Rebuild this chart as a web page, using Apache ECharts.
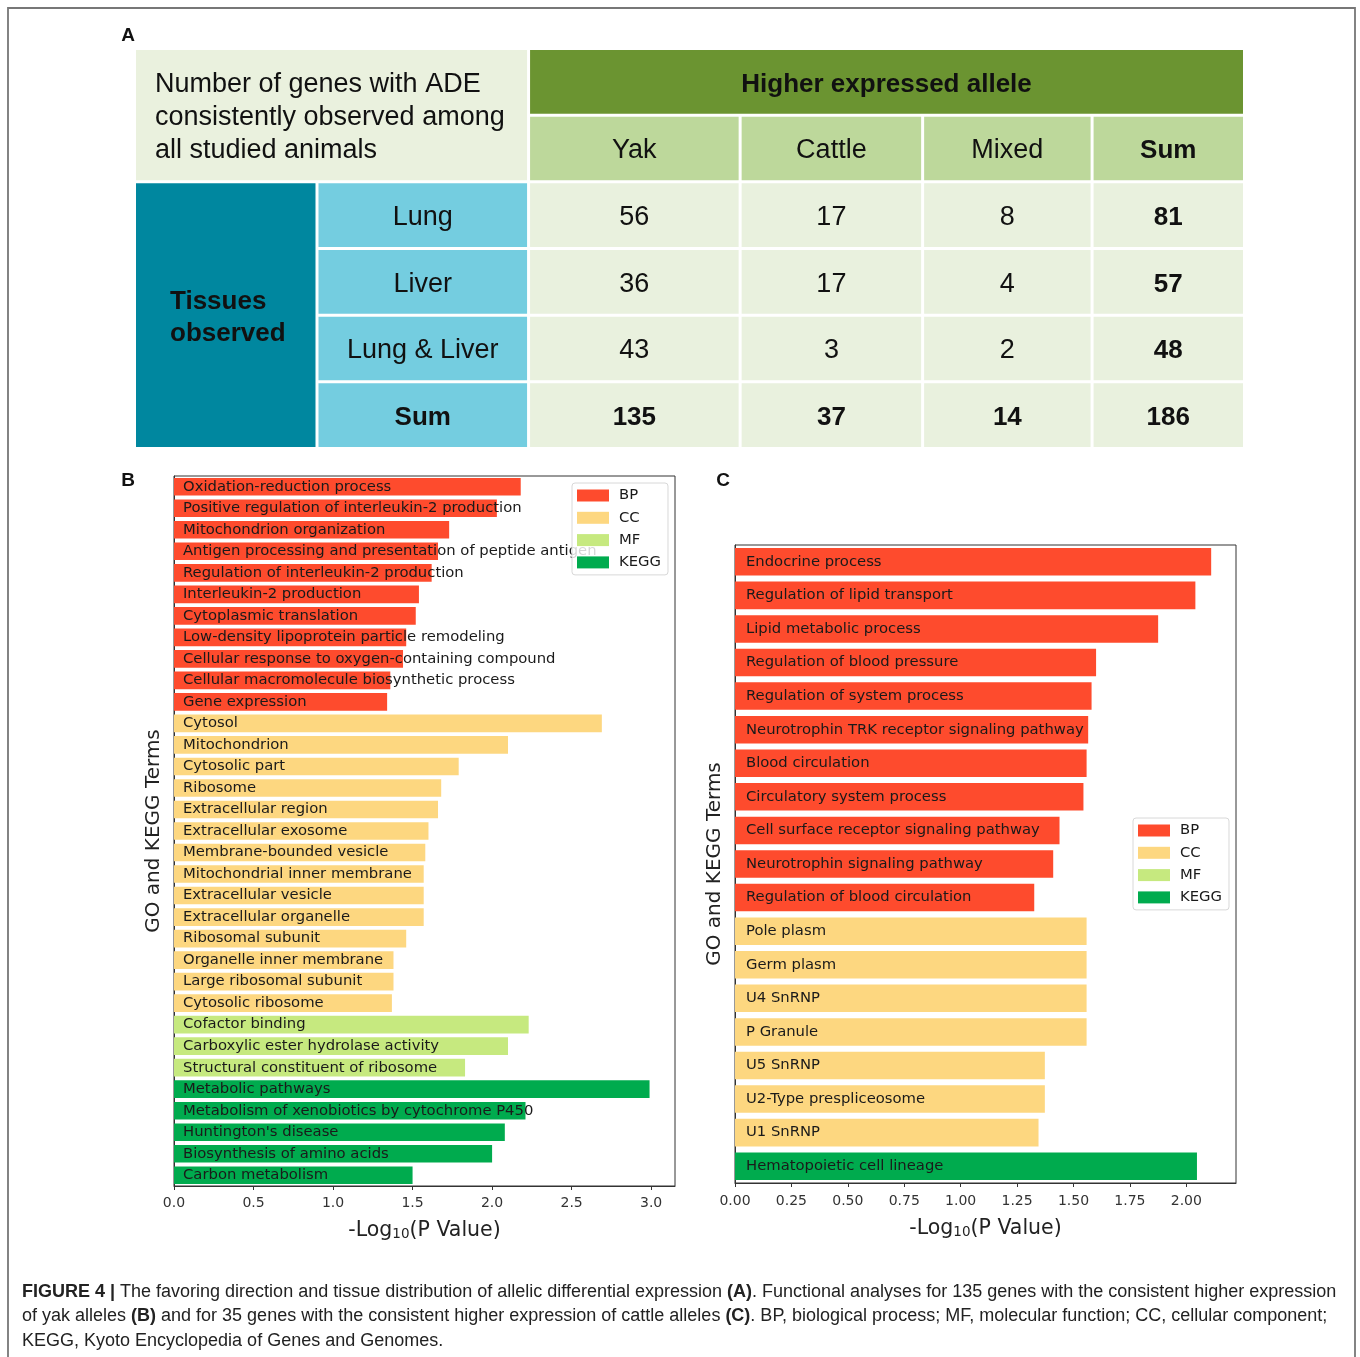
<!DOCTYPE html>
<html>
<head>
<meta charset="utf-8">
<script src="https://cdn.jsdelivr.net/npm/echarts@6/dist/echarts.min.js"></script>
<style>
  html, body { margin: 0; padding: 0; background: #ffffff; }
  #fig { width: 1360px; height: 1357px; }
</style>
</head>
<body>
<div id="fig"></div>
<script>
// ---- Panel A: genes with allelic differential expression (ADE) ----
const alleleColumns = ['Yak', 'Cattle', 'Mixed'];
const tissueRows = ['Lung', 'Liver', 'Lung & Liver'];
const yakCounts = [56, 36, 43];
const cattleCounts = [17, 17, 3];
const mixedCounts = [8, 4, 2];

// ---- Panel B: enrichment for genes with higher yak-allele expression ----
const bpTermsB = [
  'Oxidation-reduction process',
  'Positive regulation of interleukin-2 production',
  'Mitochondrion organization',
  'Antigen processing and presentation of peptide antigen',
  'Regulation of interleukin-2 production',
  'Interleukin-2 production',
  'Cytoplasmic translation',
  'Low-density lipoprotein particle remodeling',
  'Cellular response to oxygen-containing compound',
  'Cellular macromolecule biosynthetic process',
  'Gene expression'
];
const bpValuesB = [2.18, 2.03, 1.73, 1.66, 1.62, 1.54, 1.52, 1.46, 1.44, 1.36, 1.34];
const ccTermsB = [
  'Cytosol', 'Mitochondrion', 'Cytosolic part', 'Ribosome', 'Extracellular region',
  'Extracellular exosome', 'Membrane-bounded vesicle', 'Mitochondrial inner membrane',
  'Extracellular vesicle', 'Extracellular organelle', 'Ribosomal subunit',
  'Organelle inner membrane', 'Large ribosomal subunit', 'Cytosolic ribosome'
];
const ccValuesB = [2.69, 2.10, 1.79, 1.68, 1.66, 1.60, 1.58, 1.57, 1.57, 1.57, 1.46, 1.38, 1.38, 1.37];
const mfTermsB = ['Cofactor binding', 'Carboxylic ester hydrolase activity', 'Structural constituent of ribosome'];
const mfValuesB = [2.23, 2.10, 1.83];
const keggTermsB = [
  'Metabolic pathways', 'Metabolism of xenobiotics by cytochrome P450',
  "Huntington's disease", 'Biosynthesis of amino acids', 'Carbon metabolism'
];
const keggValuesB = [2.99, 2.21, 2.08, 2.00, 1.50];
const tickValuesB = [0, 0.5, 1.0, 1.5, 2.0, 2.5, 3.0];

// ---- Panel C: enrichment for genes with higher cattle-allele expression ----
const bpTermsC = [
  'Endocrine process', 'Regulation of lipid transport', 'Lipid metabolic process',
  'Regulation of blood pressure', 'Regulation of system process',
  'Neurotrophin TRK receptor signaling pathway', 'Blood circulation',
  'Circulatory system process', 'Cell surface receptor signaling pathway',
  'Neurotrophin signaling pathway', 'Regulation of blood circulation'
];
const bpValuesC = [2.11, 2.04, 1.875, 1.60, 1.58, 1.565, 1.558, 1.544, 1.438, 1.41, 1.326];
const ccTermsC = ['Pole plasm', 'Germ plasm', 'U4 SnRNP', 'P Granule', 'U5 SnRNP', 'U2-Type prespliceosome', 'U1 SnRNP'];
const ccValuesC = [1.558, 1.558, 1.558, 1.558, 1.373, 1.373, 1.345];
const mfTermsC = [];
const mfValuesC = [];
const keggTermsC = ['Hematopoietic cell lineage'];
const keggValuesC = [2.047];
const tickValuesC = [0, 0.25, 0.5, 0.75, 1.0, 1.25, 1.5, 1.75, 2.0];

const categoryNames = ['BP', 'CC', 'MF', 'KEGG'];
const categoryColors = { BP: '#FE4B2D', CC: '#FDD780', MF: '#C6E97F', KEGG: '#00AB4E' };

const PLOT_FONT = 'DejaVu Sans';
const TABLE_FONT = 'Liberation Sans';
const INK = '#1a1a1a';

// ---------- table layout (panel A) ----------
const colWeights = [182, 211, 211, 182, 169, 152];
const colEdges = [0];
colWeights.forEach(w => colEdges.push(colEdges[colEdges.length - 1] + w));

const FILL = {
  corner: '#EAF1DE', top: '#6B9431', head: '#BDD89B',
  tissue: '#00879F', rowHead: '#74CDE0', body: '#E9F1DE'
};
const tableCells = [];
function addCell(c0, c1, r0, r1, text, fill, opts) {
  opts = opts || {};
  tableCells.push({ c0, c1, r0, r1, text: String(text), fill,
    bold: !!opts.bold, align: opts.align || 'center', pad: opts.pad || 0, lh: opts.lh || 32 });
}
addCell(0, 1, 0, 1, 'Number of genes with ADE\nconsistently observed among\nall studied animals', FILL.corner,
  { align: 'left', pad: 19, lh: 33 });
addCell(2, 5, 0, 0, 'Higher expressed allele', FILL.top, { bold: true });
alleleColumns.forEach((name, i) => addCell(2 + i, 2 + i, 1, 1, name, FILL.head));
addCell(5, 5, 1, 1, 'Sum', FILL.head, { bold: true });
addCell(0, 0, 2, 5, 'Tissues\nobserved', FILL.tissue, { bold: true, align: 'left', pad: 34, lh: 32 });

const countColumns = [yakCounts, cattleCounts, mixedCounts];
const rowSums = tissueRows.map((_, r) => countColumns.reduce((s, col) => s + col[r], 0));
const colSums = countColumns.map(col => col.reduce((s, v) => s + v, 0));
const grandSum = rowSums.reduce((s, v) => s + v, 0);

tissueRows.forEach((name, r) => {
  addCell(1, 1, 2 + r, 2 + r, name, FILL.rowHead);
  countColumns.forEach((col, c) => addCell(2 + c, 2 + c, 2 + r, 2 + r, col[r], FILL.body));
  addCell(5, 5, 2 + r, 2 + r, rowSums[r], FILL.body, { bold: true });
});
addCell(1, 1, 5, 5, 'Sum', FILL.rowHead, { bold: true });
colSums.forEach((v, c) => addCell(2 + c, 2 + c, 5, 5, v, FILL.body, { bold: true }));
addCell(5, 5, 5, 5, grandSum, FILL.body, { bold: true });

const tableData = tableCells.map(c => [colEdges[c.c0], colEdges[c.c1 + 1], c.r0, c.r1 + 1]);

function renderTableCell(params, api) {
  const c = tableCells[params.dataIndex];
  const p0 = api.coord([api.value(0), api.value(2)]);
  const p1 = api.coord([api.value(1), api.value(3)]);
  const g = 1.5;
  const x = Math.min(p0[0], p1[0]) + g;
  const y = Math.min(p0[1], p1[1]) + g;
  const w = Math.abs(p1[0] - p0[0]) - 2 * g;
  const h = Math.abs(p1[1] - p0[1]) - 2 * g;
  return {
    type: 'group',
    children: [
      { type: 'rect', shape: { x, y, width: w, height: h }, style: { fill: c.fill } },
      {
        type: 'text',
        style: {
          text: c.text,
          x: c.align === 'left' ? x + c.pad : x + w / 2,
          y: y + h / 2 + 2.5,
          align: c.align,
          verticalAlign: 'middle',
          fill: '#111',
          fontFamily: TABLE_FONT,
          fontSize: c.bold ? 26 : 27,
          fontWeight: c.bold ? 'bold' : 'normal',
          lineHeight: c.lh
        }
      }
    ]
  };
}

// ---------- bar panels (B and C) ----------
function buildPanel(groups) {
  const terms = [].concat(...groups.map(gr => gr.terms));
  const series = [];
  let offset = 0;
  groups.forEach(gr => {
    const data = terms.map(() => '-');
    gr.values.forEach((v, i) => { data[offset + i] = v; });
    offset += gr.terms.length;
    series.push({ name: gr.name, data });
  });
  return { terms, series };
}

const panelB = buildPanel([
  { name: 'BP', terms: bpTermsB, values: bpValuesB },
  { name: 'CC', terms: ccTermsB, values: ccValuesB },
  { name: 'MF', terms: mfTermsB, values: mfValuesB },
  { name: 'KEGG', terms: keggTermsB, values: keggValuesB }
]);
const panelC = buildPanel([
  { name: 'BP', terms: bpTermsC, values: bpValuesC },
  { name: 'CC', terms: ccTermsC, values: ccValuesC },
  { name: 'MF', terms: mfTermsC, values: mfValuesC },
  { name: 'KEGG', terms: keggTermsC, values: keggValuesC }
]);

function barSeries(panel, axisIndex, labelDist, stackId) {
  return panel.series.map(s => ({
    type: 'bar',
    name: s.name,
    xAxisIndex: axisIndex,
    yAxisIndex: axisIndex,
    stack: stackId,
    data: s.data,
    barWidth: '82%',
    itemStyle: { color: categoryColors[s.name] },
    label: {
      show: true,
      position: 'insideLeft',
      distance: labelDist,
      formatter: '{b}',
      color: INK,
      fontFamily: PLOT_FONT,
      fontSize: 14.8
    },
    emphasis: { disabled: true },
    silent: true,
    animation: false
  }));
}

const axisNameRich = {
  sub: { fontFamily: PLOT_FONT, fontSize: 13.5, lineHeight: 14, verticalAlign: 'bottom', color: '#222' },
  main: { fontFamily: PLOT_FONT, fontSize: 20.5, lineHeight: 26, verticalAlign: 'bottom', color: '#222' }
};

function valueAxis(gridIndex, max, ticks, digits, labelMargin, nameGap) {
  return {
    type: 'value', gridIndex, min: 0, max,
    name: '{main|-Log}{sub|10}{main|(P Value)}',
    nameLocation: 'middle',
    nameGap,
    nameTextStyle: { rich: axisNameRich },
    axisLine: { show: true, lineStyle: { color: '#333', width: 1 } },
    axisTick: { show: true, length: 4, customValues: ticks, lineStyle: { color: '#333' } },
    axisLabel: {
      show: true, customValues: ticks, margin: labelMargin,
      formatter: v => v.toFixed(digits),
      color: '#333', fontFamily: PLOT_FONT, fontSize: 14
    },
    splitLine: { show: false }
  };
}

function categoryAxis(gridIndex, terms) {
  return {
    type: 'category', gridIndex, data: terms, inverse: true,
    name: 'GO and KEGG Terms',
    nameLocation: 'middle',
    nameGap: 10,
    nameTextStyle: { fontFamily: PLOT_FONT, fontSize: 20, color: '#222' },
    axisLine: { show: true, lineStyle: { color: '#333', width: 1 } },
    axisTick: { show: false },
    axisLabel: { show: false },
    splitLine: { show: false }
  };
}

function legendAt(left, top) {
  return {
    data: categoryNames,
    left, top,
    orient: 'vertical',
    icon: 'rect',
    itemWidth: 32, itemHeight: 12, itemGap: 7.3,
    padding: [5, 7, 5, 5],
    backgroundColor: 'rgba(255,255,255,0.82)',
    borderColor: '#d8d8d8', borderWidth: 1, borderRadius: 3,
    textStyle: { fontFamily: PLOT_FONT, fontSize: 14.8, color: INK, padding: [0, 0, 0, 5] },
    selectedMode: false
  };
}

const captionRich = { b: { fontWeight: 'bold', fontFamily: TABLE_FONT, fontSize: 18, fill: '#222' } };
const captionLines = [
  '{b|FIGURE 4 |} The favoring direction and tissue distribution of allelic differential expression {b|(A)}. Functional analyses for 135 genes with the consistent higher expression',
  'of yak alleles {b|(B)} and for 35 genes with the consistent higher expression of cattle alleles {b|(C)}. BP, biological process; MF, molecular function; CC, cellular component;',
  'KEGG, Kyoto Encyclopedia of Genes and Genomes.'
];

const chart = echarts.init(document.getElementById('fig'), null, { renderer: 'canvas' });
chart.setOption({
  backgroundColor: '#ffffff',
  animation: false,
  grid: [
    { left: 134.5, top: 48.5, width: 1110, height: 400, show: false },
    { left: 174, top: 476, width: 501, height: 710, show: true, borderColor: '#333', borderWidth: 1, backgroundColor: 'transparent' },
    { left: 735, top: 545, width: 501, height: 638, show: true, borderColor: '#333', borderWidth: 1, backgroundColor: 'transparent' }
  ],
  xAxis: [
    { type: 'value', gridIndex: 0, min: 0, max: colEdges[colEdges.length - 1], show: false },
    valueAxis(1, 3.15, tickValuesB, 1, 10, 29),
    valueAxis(2, 2.22, tickValuesC, 2, 11, 30)
  ],
  yAxis: [
    { type: 'value', gridIndex: 0, min: 0, max: 6, inverse: true, show: false },
    categoryAxis(1, panelB.terms),
    categoryAxis(2, panelC.terms)
  ],
  legend: [legendAt(572, 483), legendAt(1133, 818)],
  series: [
    {
      type: 'custom', xAxisIndex: 0, yAxisIndex: 0,
      data: tableData, renderItem: renderTableCell, silent: true, clip: false
    },
    ...barSeries(panelB, 1, 9, 'B'),
    ...barSeries(panelC, 2, 11, 'C')
  ],
  graphic: [
    { type: 'rect', shape: { x: 8, y: 8, width: 1347, height: 1380 }, style: { fill: 'none', stroke: '#777', lineWidth: 1.8 }, silent: true },
    { type: 'text', x: 128, y: 36, style: { text: 'A', fontFamily: TABLE_FONT, fontWeight: 'bold', fontSize: 19, fill: '#111', align: 'center', verticalAlign: 'middle' } },
    { type: 'text', x: 128, y: 481, style: { text: 'B', fontFamily: TABLE_FONT, fontWeight: 'bold', fontSize: 19, fill: '#111', align: 'center', verticalAlign: 'middle' } },
    { type: 'text', x: 723, y: 481, style: { text: 'C', fontFamily: TABLE_FONT, fontWeight: 'bold', fontSize: 19, fill: '#111', align: 'center', verticalAlign: 'middle' } },
    ...captionLines.map((line, i) => ({
      type: 'text', x: 22, y: 1292 + i * 24.5,
      style: { text: line, rich: captionRich, fontFamily: TABLE_FONT, fontSize: 18, fill: '#222', verticalAlign: 'middle', align: 'left' }
    }))
  ]
});
</script>
</body>
</html>
